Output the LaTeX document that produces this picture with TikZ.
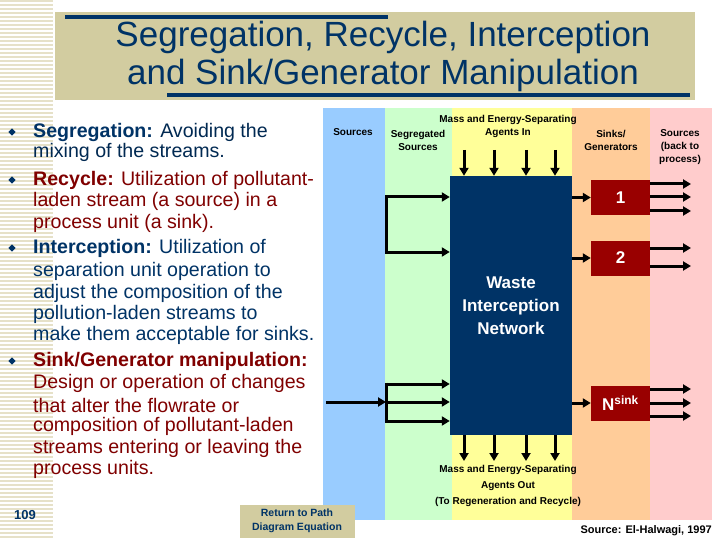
\documentclass[tikz,border=0pt]{standalone}
\usepackage{fontspec}
\setmainfont{Liberation Sans}
\usetikzlibrary{arrows.meta}
\definecolor{navy}{HTML}{003366}
\definecolor{dred}{HTML}{800000}
\definecolor{tan}{HTML}{D2CCA0}
\definecolor{cblue}{HTML}{99CCFF}
\definecolor{cgreen}{HTML}{CCFFCC}
\definecolor{cyellow}{HTML}{FFFF99}
\definecolor{corange}{HTML}{FFCC99}
\definecolor{cpink}{HTML}{FFCCCC}
\definecolor{stripe}{HTML}{E6E1C8}
\definecolor{sinkred}{HTML}{990000}
\begin{document}
\begin{tikzpicture}[x=1pt,y=-1pt,
  txt/.style={anchor=west,inner sep=0pt,font=\fontsize{19.6}{19.6}\selectfont},
  lbl/.style={align=center,inner sep=0pt,font=\bfseries\fontsize{10}{13}\selectfont},
  flow/.style={line width=3pt,-{Triangle[length=8pt,width=9pt]}},
  sinkbox/.style={fill=sinkred,text=white,font=\bfseries\fontsize{17}{17}\selectfont,minimum width=59pt,minimum height=35pt,inner sep=0pt},
  bul/.style={fill=navy,minimum size=5pt,inner sep=0pt,rotate=45}]
\useasboundingbox (0,0) rectangle (720,540);
\fill[white] (0,0) rectangle (720,540);
% stripes
\foreach \y in {0,4,...,540} \fill[stripe] (0,\y) rectangle (53,\y+1.6);
% title
\fill[tan] (55,12) rectangle (695,100);
\fill[navy] (65,15) rectangle (388,19);
\fill[navy] (167,93) rectangle (690,97);
\node[align=center,text=navy,font=\fontsize{35}{38}\selectfont,inner sep=0pt] (title) at (383,56) {Segregation, Recycle, Interception\\and Sink/Generator Manipulation};
% columns
\fill[cblue] (323,108) rectangle (385,520);
\fill[cgreen] (385,108) rectangle (452,520);
\fill[cyellow] (452,108) rectangle (572,520);
\fill[corange] (572,108) rectangle (650,520);
\fill[cpink] (650,108) rectangle (712,520);
% bullets
\foreach \y in {132,180,248,361} \node[bul] at (12,\y) {};
\node[txt,text=navy] (l1) at (33,132) {\textbf{Segregation:} \color{navy!80!black}Avoiding the};
\node[txt,text=navy!80!black] at (33,152) {mixing of the streams.};
\node[txt,text=dred] (l2) at (33,180) {\textbf{Recycle:} Utilization of pollutant-};
\node[txt,text=dred] at (33,201) {laden stream (a source) in a};
\node[txt,text=dred] at (33,223) {process unit (a sink).};
\node[txt,text=navy] (l3) at (33,248) {\textbf{Interception:} Utilization of};
\node[txt,text=navy] at (33,271) {separation unit operation to};
\node[txt,text=navy] at (33,293) {adjust the composition of the};
\node[txt,text=navy] at (33,314) {pollution-laden streams to};
\node[txt,text=navy] at (33,335) {make them acceptable for sinks.};
\node[txt,text=dred] (l4) at (33,361) {\textbf{Sink/Generator manipulation:}};
\node[txt,text=dred] at (33,383) {Design or operation of changes};
\node[txt,text=dred] at (33,405) {that alter the flowrate or};
\node[txt,text=dred] at (33,426) {composition of pollutant-laden};
\node[txt,text=dred] at (33,448) {streams entering or leaving the};
\node[txt,text=dred] at (33,469) {process units.};
\node[text=navy,font=\bfseries\fontsize{13}{13}\selectfont] (pg) at (25,515) {109};
% return box
\node[fill=tan,text=navy,align=center,font=\bfseries\fontsize{10.5}{14}\selectfont,minimum width=115pt,minimum height=33pt,inner sep=0pt] (ret) at (297,521) {Return to Path\\Diagram Equation};
% diagram
\node[fill=navy,text=white,align=center,font=\bfseries\fontsize{17}{23}\selectfont,minimum width=122pt,minimum height=259pt,inner sep=0pt] (win) at (511,305.5) {Waste\\Interception\\Network};
\node[sinkbox] (s1) at (620.5,197.5) {1};
\node[sinkbox] (s2) at (620.5,258) {2};
\node[sinkbox] (sn) at (620.5,403) {N\textsuperscript{sink}};
\node[lbl] (hs) at (353,132) {Sources};
\node[lbl] (hseg) at (418,140) {Segregated\\Sources};
\node[lbl] (hin) at (508,126) {Mass and Energy-Separating\\Agents In};
\node[lbl] (hsink) at (611,140) {Sinks/\\Generators};
\node[lbl] (hback) at (680,147) {Sources\\(back to\\process)};
\node[lbl,font=\bfseries\fontsize{10}{16}\selectfont] (hout) at (508,486) {Mass and Energy-Separating\\Agents Out\\(To Regeneration and Recycle)};
\node[lbl,anchor=east,font=\bfseries\fontsize{11}{11}\selectfont] (src) at (712,531) {Source: El-Halwagi, 1997};
% top/bottom arrows
\foreach \x in {464,494,526,555} {
  \coordinate (t\x) at (\x,150);
  \draw[flow] (t\x) -- (t\x |- win.north);
  \coordinate (b\x) at (\x,461);
  \draw[flow] (\x,435) -- (b\x);
}
% left segregated streams
\coordinate (in) at (326,402);
\coordinate (j1) at (386,197);
\coordinate (j2) at (386,252);
\draw[line width=3pt] (j1) ++(0,-1.5) -- (j2 |- 0,253.5);
\draw[flow] (j1) -- (j1 -| win.west);
\draw[flow] (j2) -- (j2 -| win.west);
\coordinate (k1) at (386,384);
\coordinate (k2) at (386,402);
\coordinate (k3) at (386,421);
\draw[line width=3pt] (386,382.5) -- (386,422.5);
\draw[flow] (in) -- (k2);
\foreach \k in {k1,k2,k3} \draw[flow] (\k) -- (\k -| win.west);
% to sinks
\draw[flow] (s1.west -| win.east) -- (s1.west);
\draw[flow] (s2.west -| win.east) -- (s2.west);
\draw[flow] (sn.west -| win.east) -- (sn.west);
% outputs
\foreach \y in {184,197,211} \draw[flow] (s1.east |- 0,\y) -- (691,\y);
\foreach \y in {248,266} \draw[flow] (s2.east |- 0,\y) -- (691,\y);
\foreach \y in {389,403,416} \draw[flow] (sn.east |- 0,\y) -- (691,\y);
\end{tikzpicture}
\end{document}
